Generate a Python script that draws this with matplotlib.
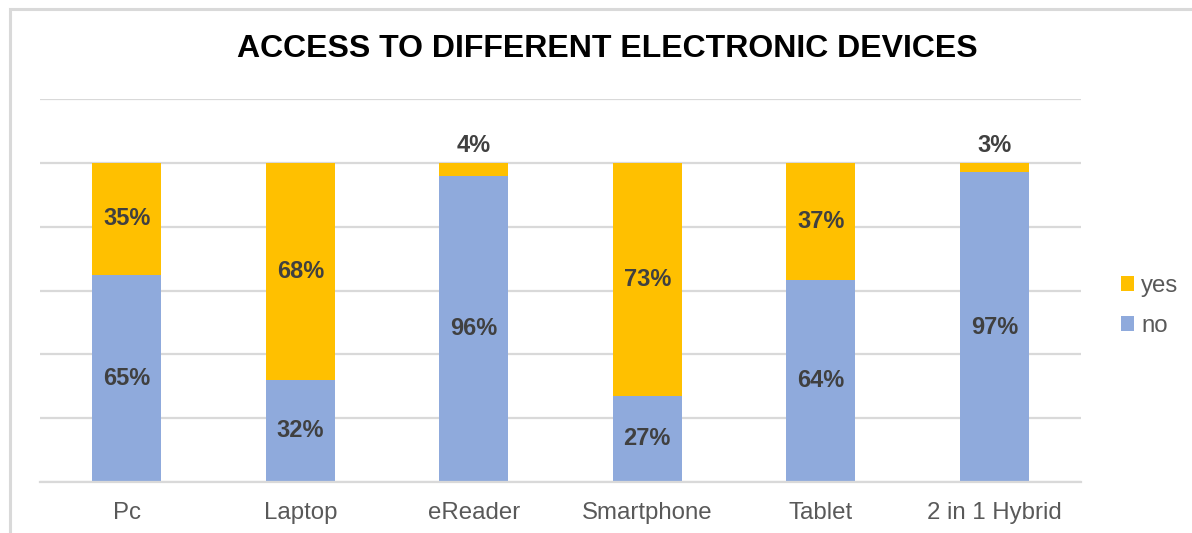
import matplotlib
matplotlib.use("Agg")
import matplotlib.pyplot as plt
from matplotlib.patches import Rectangle, Patch
import numpy as np

categories = ["Pc", "Laptop", "eReader", "Smartphone", "Tablet", "2 in 1 Hybrid"]
no_values = [65, 32, 96, 27, 64, 97]
yes_values = [35, 68, 4, 73, 37, 3]

YES_COLOR = "#FFC000"
NO_COLOR = "#8FAADC"
GRID_COLOR = "#D9D9D9"
LABEL_COLOR = "#404040"
TEXT_COLOR = "#595959"

plt.rcParams["font.family"] = ["Liberation Sans", "DejaVu Sans"]

W, H = 1192, 533
fig = plt.figure(figsize=(W / 100, H / 100), dpi=100)

# chart frame (runs off the right and bottom edges)
fig.patches.append(Rectangle((9.5 / W, -1), 3, 2 - 8.5 / H, transform=fig.transFigure,
                             fill=False, edgecolor=GRID_COLOR, linewidth=2.2))

ax = fig.add_axes([40 / W, (H - 482) / H, (1081 - 40) / W, (482 - 99) / H])

no_arr = np.array(no_values, dtype=float)
yes_arr = np.array(yes_values, dtype=float)
total = no_arr + yes_arr
no_pct = no_arr / total * 100
yes_pct = yes_arr / total * 100

x = np.arange(len(categories))
width = 0.4
ax.bar(x, no_pct, width, color=NO_COLOR, label="no", zorder=2)
ax.bar(x, yes_pct, width, bottom=no_pct, color=YES_COLOR, label="yes", zorder=2)

label_kw = dict(ha="center", va="center", fontsize=17, fontweight="bold",
                color=LABEL_COLOR, zorder=3)
for i in range(len(categories)):
    ax.text(x[i], no_pct[i] / 2, f"{no_values[i]}%", **label_kw)
    if yes_values[i] < 10:
        ax.text(x[i], 100 + 5.3, f"{yes_values[i]}%", **label_kw)
    else:
        ax.text(x[i], no_pct[i] + yes_pct[i] / 2, f"{yes_values[i]}%", **label_kw)

ax.set_xlim(-0.5, len(categories) - 0.5)
ax.set_ylim(0, 120)
ax.set_yticks(np.arange(0, 121, 20))
ax.yaxis.grid(True, color=GRID_COLOR, linewidth=1.6, zorder=0)
ax.set_axisbelow(True)
ax.tick_params(axis="y", left=False, labelleft=False)
ax.tick_params(axis="x", bottom=False, labelsize=17.3, labelcolor=TEXT_COLOR, pad=11)
ax.set_xticks(x)
ax.set_xticklabels(categories)
for side in ["top", "right", "left"]:
    ax.spines[side].set_visible(False)
ax.spines["bottom"].set_color(GRID_COLOR)
ax.spines["bottom"].set_linewidth(1.6)

fig.text(607 / W, 1 - 49 / H, "ACCESS TO DIFFERENT ELECTRONIC DEVICES", ha="center", va="center",
         fontsize=23, fontweight="bold", color="#000000")

handles = [Patch(facecolor=YES_COLOR, label="yes"), Patch(facecolor=NO_COLOR, label="no")]
fig.legend(handles=handles, loc="center left", bbox_to_anchor=(1121 / W, 1 - 306 / H),
           frameon=False, fontsize=17.3, labelcolor=TEXT_COLOR, handlelength=0.55,
           handleheight=0.55, handletextpad=0.3, labelspacing=0.75, borderaxespad=0,
           borderpad=0)

fig.savefig("out.png", dpi=100)
